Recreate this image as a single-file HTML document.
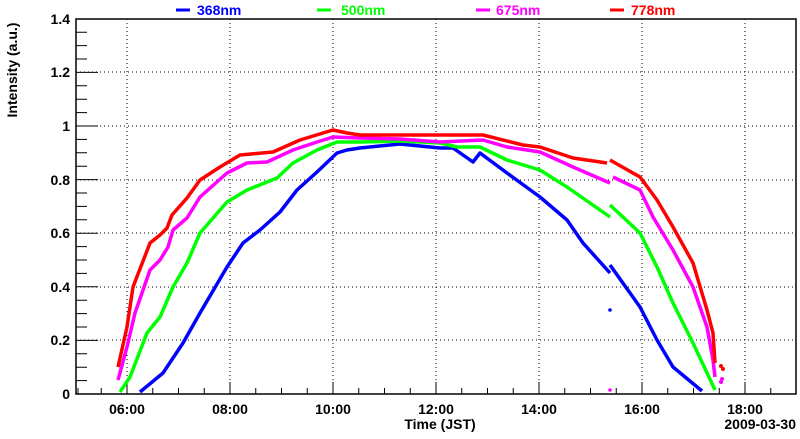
<!DOCTYPE html><html><head><style>body{margin:0;background:#fff}</style></head><body>
<svg width="800" height="434" xmlns="http://www.w3.org/2000/svg" font-family="Liberation Sans, sans-serif" font-weight="bold">
<rect width="800" height="434" fill="#fff"/>
<g stroke="#000" stroke-dasharray="1,3" stroke-width="1">
<line x1="127" y1="19" x2="127" y2="394"/><line x1="230" y1="19" x2="230" y2="394"/><line x1="333" y1="19" x2="333" y2="394"/><line x1="436" y1="19" x2="436" y2="394"/><line x1="539" y1="19" x2="539" y2="394"/><line x1="642" y1="19" x2="642" y2="394"/><line x1="745" y1="19" x2="745" y2="394"/>
<line x1="76" y1="72" x2="796" y2="72"/><line x1="76" y1="126" x2="796" y2="126"/><line x1="76" y1="180" x2="796" y2="180"/><line x1="76" y1="233" x2="796" y2="233"/><line x1="76" y1="287" x2="796" y2="287"/><line x1="76" y1="340" x2="796" y2="340"/>
</g>
<g stroke="#000" stroke-width="1">
<path d="M76 394h22M76 380.6h11M76 367.2h11M76 353.8h11M76 340.4h22M76 327h11M76 313.6h11M76 300.2h11M76 286.8h22M76 273.4h11M76 260h11M76 246.6h11M76 233.2h22M76 219.8h11M76 206.4h11M76 193h11M76 179.6h22M76 166.2h11M76 152.8h11M76 139.4h11M76 126h22M76 112.6h11M76 99.2h11M76 85.8h11M76 72.4h22M76 59h11M76 45.6h11M76 32.2h11"/>
<path d="M101.25 394v-6M127 394v-12M152.75 394v-6M178.5 394v-6M204.25 394v-6M230 394v-12M255.75 394v-6M281.5 394v-6M307.25 394v-6M333 394v-12M358.75 394v-6M384.5 394v-6M410.25 394v-6M436 394v-12M461.75 394v-6M487.5 394v-6M513.25 394v-6M539 394v-12M564.75 394v-6M590.5 394v-6M616.25 394v-6M642 394v-12M667.75 394v-6M693.5 394v-6M719.25 394v-6M745 394v-12M770.75 394v-6M78 394v-6"/>
</g>
<rect x="76" y="19" width="720" height="375" fill="none" stroke="#000" stroke-width="1.5"/>
<g fill="none" stroke-width="3.5" stroke-linejoin="round">
<polyline stroke="#0000ff" points="140,392 163,373 183,343 200,313 227,267 243,243 260,230 280,212 297,190 317,172 337,153 347,150 360,148 400,144 440,148 453,148 473,162 480,153 507,173 540,197 567,220 583,243 610,273"/>
<polyline stroke="#0000ff" points="610,265 640,307 657,340 673,367 702,391"/>
<polyline stroke="#00ff00" points="120,392 130,377 147,333 160,317 173,287 187,263 200,233 227,202 247,190 277,178 293,163 317,150 337,142 360,142 400,141 440,143 457,147 480,147 507,160 540,170 567,187 590,203 610,217"/>
<polyline stroke="#00ff00" points="610,205 640,233 657,267 673,303 693,343 715,390"/>
<polyline stroke="#ff00ff" points="118,380 127,347 135,313 150,270 160,260 168,247 173,230 187,218 200,197 227,173 247,163 267,162 293,150 317,142 333,137 360,138 400,139 440,142 483,140 507,147 540,152 573,167 610,183"/>
<polyline stroke="#ff00ff" points="613,177 640,190 653,217 673,250 693,287 707,327 713,360 715,377"/>
<polyline stroke="#ff0000" points="118,367 127,327 133,287 150,243 160,235 167,228 172,215 187,198 200,180 220,167 240,155 273,152 300,140 333,130 347,133 360,135 400,135 440,135 483,135 523,145 540,147 573,158 607,163"/>
<polyline stroke="#ff0000" points="610,160 640,177 657,200 673,227 693,263 707,310 713,333 715,363"/>
</g>
<circle cx="610" cy="310" r="1.8" fill="#0000ff"/><circle cx="610" cy="390" r="1.8" fill="#ff00ff"/>
<circle cx="721" cy="366" r="2" fill="#ff0000"/><circle cx="723" cy="369" r="2" fill="#ff0000"/><circle cx="722" cy="379" r="2" fill="#ff00ff"/><circle cx="721" cy="382" r="2" fill="#ff00ff"/>
<g font-size="14" text-anchor="end">
<text x="70" y="24">1.4</text><text x="70" y="77">1.2</text><text x="70" y="131">1</text><text x="70" y="185">0.8</text><text x="70" y="238">0.6</text><text x="70" y="292">0.4</text><text x="70" y="345">0.2</text><text x="70" y="399">0</text>
</g>
<g font-size="14" text-anchor="middle">
<text x="127" y="414">06:00</text><text x="230" y="414">08:00</text><text x="333" y="414">10:00</text><text x="436" y="414">12:00</text><text x="539" y="414">14:00</text><text x="642" y="414">16:00</text><text x="745" y="414">18:00</text>
<text x="440" y="429">Time (JST)</text>
<text transform="translate(17,70) rotate(-90)">Intensity (a.u.)</text>
</g>
<text x="796" y="429" font-size="14" text-anchor="end">2009-03-30</text>
<g font-size="14">
<line x1="176" y1="10" x2="190" y2="10" stroke="#0000ff" stroke-width="3"/><text x="197" y="15" fill="#0000ff">368nm</text>
<line x1="317" y1="10" x2="331" y2="10" stroke="#00ff00" stroke-width="3"/><text x="341" y="15" fill="#00ff00">500nm</text>
<line x1="476" y1="10" x2="490" y2="10" stroke="#ff00ff" stroke-width="3"/><text x="496" y="15" fill="#ff00ff">675nm</text>
<line x1="610" y1="10" x2="624" y2="10" stroke="#ff0000" stroke-width="3"/><text x="631" y="15" fill="#ff0000">778nm</text>
</g>
</svg>
</body></html>
